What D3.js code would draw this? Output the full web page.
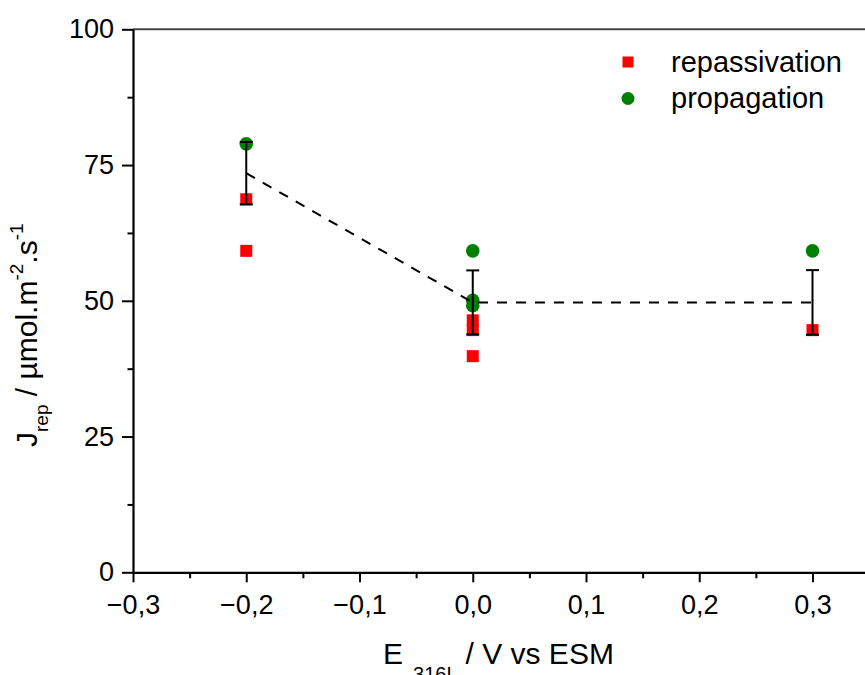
<!DOCTYPE html>
<html><head><meta charset="utf-8">
<script src="https://cdn.jsdelivr.net/npm/d3@7"></script>
<style>
body{margin:0;background:#fff}
text{font-family:"Liberation Sans",Arial,sans-serif;fill:#000}
</style>
</head><body><svg id="c" width="865" height="675"></svg>
<script>
// ---- data ----
const potentials = [-0.2, 0.0, 0.3];
const repassivation = [[68.7, 59.2], [46.4, 44.6, 39.8], [44.6]];
const propagation = [[78.9], [59.2, 50.1, 49.1], [59.2]];
const meanJ = [73.5, 49.7, 49.7];
const errJ = [5.75, 5.9, 5.95];
const xTicks = [-0.3, -0.2, -0.1, 0.0, 0.1, 0.2, 0.3];
const xMinor = [-0.25, -0.15, -0.05, 0.05, 0.15, 0.25, 0.35];
const yTicks = [0, 25, 50, 75, 100];
const yMinor = [12.5, 37.5, 62.5, 87.5];
const legendLabels = ["repassivation", "propagation"];

const svg = d3.select("#c");
const x = d3.scaleLinear().domain([-0.3, 0.4]).range([133, 925.75]);
const y = d3.scaleLinear().domain([0, 100]).range([572.3, 29.3]);
const fmt = v => d3.format(".1f")(v).replace(".", ",");

// top border
svg.append("line").attr("x1", x(-0.3)).attr("x2", x(0.4)).attr("y1", y(100)).attr("y2", y(100))
  .attr("stroke", "#444").attr("stroke-width", 2);

// axes
const gx = svg.append("g").attr("transform", `translate(0,${y(0)})`)
  .call(d3.axisBottom(x).tickValues(xTicks).tickFormat(fmt).tickSize(10).tickSizeOuter(0).tickPadding(13));
const gxm = svg.append("g").attr("transform", `translate(0,${y(0)})`)
  .call(d3.axisBottom(x).tickValues(xMinor).tickFormat("").tickSize(6).tickSizeOuter(0));
const gy = svg.append("g").attr("transform", `translate(${x(-0.3)},0)`)
  .call(d3.axisLeft(y).tickValues(yTicks).tickSize(11).tickSizeOuter(0).tickPadding(8));
const gym = svg.append("g").attr("transform", `translate(${x(-0.3)},0)`)
  .call(d3.axisLeft(y).tickValues(yMinor).tickFormat("").tickSize(5.5).tickSizeOuter(0));
[gx, gxm, gy, gym].forEach(g => {
  g.selectAll("path.domain").attr("stroke", "#000").attr("stroke-width", 2.2);
  g.selectAll(".tick line").attr("stroke", "#000").attr("stroke-width", 2);
  g.selectAll(".tick text").attr("font-size", 27).attr("font-family", '"Liberation Sans",Arial,sans-serif').attr("fill", "#000");
});
gxm.select("path.domain").remove();
gym.select("path.domain").remove();

// markers
const sq = potentials.flatMap((p, i) => repassivation[i].map(v => ({p, v})));
const ci = potentials.flatMap((p, i) => propagation[i].map(v => ({p, v})));
const S = 12;
svg.append("g").selectAll("rect").data(sq).join("rect")
  .attr("x", d => x(d.p) - S / 2).attr("y", d => y(d.v) - S / 2)
  .attr("width", S).attr("height", S).attr("fill", "#ff0000");
svg.append("g").selectAll("circle").data(ci).join("circle")
  .attr("cx", d => x(d.p)).attr("cy", d => y(d.v)).attr("r", 6.8).attr("fill", "#008000");

// mean dashed line
const means = potentials.map((p, i) => ({p, m: meanJ[i], e: errJ[i]}));
svg.append("path").datum(means)
  .attr("d", d3.line().x(d => x(d.p)).y(d => y(d.m)))
  .attr("fill", "none").attr("stroke", "#000").attr("stroke-width", 2).attr("stroke-dasharray", "10,9");

// error bars
const eb = svg.append("g").attr("stroke", "#000").attr("stroke-width", 2);
eb.selectAll("line.v").data(means).join("line").attr("class", "v")
  .attr("x1", d => x(d.p)).attr("x2", d => x(d.p))
  .attr("y1", d => y(d.m - d.e)).attr("y2", d => y(d.m + d.e));
eb.selectAll("line.t").data(means).join("line").attr("class", "t")
  .attr("x1", d => x(d.p) - 6.5).attr("x2", d => x(d.p) + 6.5)
  .attr("y1", d => y(d.m + d.e)).attr("y2", d => y(d.m + d.e));
eb.selectAll("line.b").data(means).join("line").attr("class", "b")
  .attr("x1", d => x(d.p) - 6.5).attr("x2", d => x(d.p) + 6.5)
  .attr("y1", d => y(d.m - d.e)).attr("y2", d => y(d.m - d.e));

// legend
const lg = svg.append("g");
lg.append("rect").attr("x", 628 - 5.5).attr("y", 62 - 5.5).attr("width", 11).attr("height", 11).attr("fill", "#ff0000");
lg.append("circle").attr("cx", 628).attr("cy", 98.5).attr("r", 6.5).attr("fill", "#008000");
lg.selectAll("text").data(legendLabels).join("text")
  .attr("x", 671).attr("y", (d, i) => 72 + i * 35.5).attr("font-size", 29).text(d => d);

// x title
const xt = svg.append("text").attr("x", 383).attr("y", 664).attr("font-size", 30);
xt.append("tspan").text("E");
xt.append("tspan").attr("font-size", 20).attr("dx", 10).attr("dy", 17).text("316L");
xt.append("tspan").attr("dx", 8).attr("dy", -17).text("/ V vs ESM");

// y title
const yt = svg.append("text").attr("transform", "translate(37,447) rotate(-90)").attr("font-size", 30);
yt.append("tspan").text("J");
yt.append("tspan").attr("font-size", 19).attr("dy", 11).text("rep");
yt.append("tspan").attr("dy", -11).text(" / µmol.m");
yt.append("tspan").attr("font-size", 19).attr("dy", -14).text("-2");
yt.append("tspan").attr("dy", 14).text(".s");
yt.append("tspan").attr("font-size", 19).attr("dy", -14).text("-1");
</script></body></html>
